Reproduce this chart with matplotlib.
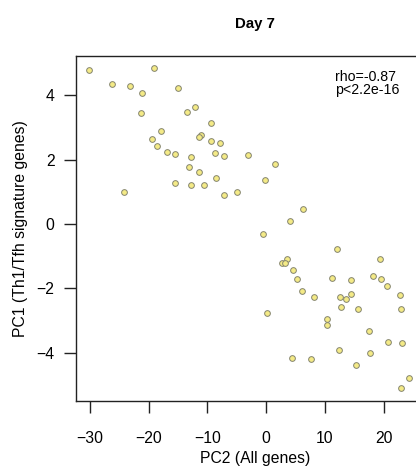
import matplotlib
matplotlib.use("Agg")
import matplotlib.pyplot as plt

plt.rcParams["font.family"] = ["Liberation Sans", "DejaVu Sans"]

# PC2 (All genes) vs PC1 (Th1/Tfh signature genes), day 7 samples
pc2_all_genes = [
    -30.2, -19.18, -26.24, -23.22, -21.23, -15.09, -21.35, -13.46, -12.15, -9.37,
    -17.89, -19.52, -11.18, -11.47, -9.42, -7.94, -18.57, -16.97, -15.50, -12.83,
    -8.79, -7.26, -3.03, -13.17, -11.47, -8.52, -15.55, -12.78, -10.66, -24.24,
    -7.16, -4.99, 1.53, -0.22, 6.20, 4.04, -0.61, 11.99, 19.32, 3.48,
    2.62, 3.19, 4.60, 5.18, 11.14, 14.43, 18.13, 19.59, 20.51, 6.03,
    8.08, 12.56, 13.58, 14.43, 12.73, 15.62, 22.86, 23.03, 0.17, 10.39,
    10.29, 17.55, 20.73, 23.12, 12.47, 17.75, 4.43, 7.56, 15.28, 24.31,
    22.90,
]
pc1_signature = [
    4.79, 4.84, 4.35, 4.30, 4.08, 4.23, 3.44, 3.47, 3.63, 3.13,
    2.88, 2.63, 2.77, 2.69, 2.58, 2.52, 2.41, 2.24, 2.16, 2.07,
    2.20, 2.12, 2.14, 1.77, 1.62, 1.42, 1.27, 1.21, 1.22, 0.99,
    0.91, 1.00, 1.86, 1.37, 0.47, 0.09, -0.32, -0.79, -1.08, -1.08,
    -1.21, -1.21, -1.42, -1.72, -1.69, -1.75, -1.63, -1.72, -1.93, -2.09,
    -2.28, -2.27, -2.33, -2.16, -2.57, -2.63, -2.21, -2.65, -2.76, -2.94,
    -3.15, -3.32, -3.67, -3.70, -3.93, -4.00, -4.16, -4.19, -4.37, -4.78,
    -5.09,
]
x_ticks = [-30, -20, -10, 0, 10, 20]
y_ticks = [-4, -2, 0, 2, 4]
stats_text = "rho=-0.87\np<2.2e-16"

figure = plt.figure(figsize=(4.16, 4.70), dpi=100)
# plot region runs past the right edge of the image (cropped like the original)
axis = figure.add_axes([76 / 416, 69 / 470, (434 - 76) / 416, (401 - 56) / 470])

axis.scatter(pc2_all_genes, pc1_signature, s=17, facecolor="#F4EA86",
             edgecolor="#85856f", linewidth=0.7, zorder=3, clip_on=False)

axis.set_xlim(-32.4, 28.6)
axis.set_ylim(-5.5, 5.22)
axis.set_xticks(x_ticks)
axis.set_yticks(y_ticks)
axis.set_xticklabels([str(t).replace("-", "\u2212") for t in x_ticks])
axis.set_yticklabels([str(t).replace("-", "\u2212") for t in y_ticks])
axis.tick_params(axis="both", direction="out", length=8.5, width=1.0,
                 labelsize=11.3, color="#222222")
axis.tick_params(axis="x", pad=13)
axis.tick_params(axis="y", pad=7)
for spine in axis.spines.values():
    spine.set_linewidth(1.0)
    spine.set_color("#222222")

axis.set_xlabel("PC2 (All genes)", fontsize=11.3, labelpad=4)
axis.set_ylabel("PC1 (Th1/Tfh signature genes)", fontsize=11.3, labelpad=6)
axis.set_title("Day 7", fontsize=10.8, fontweight="bold", pad=20)

axis.text(11.7, 4.8, stats_text, fontsize=10.2, ha="left", va="top",
          linespacing=0.95)

figure.savefig("out.png", dpi=100)
